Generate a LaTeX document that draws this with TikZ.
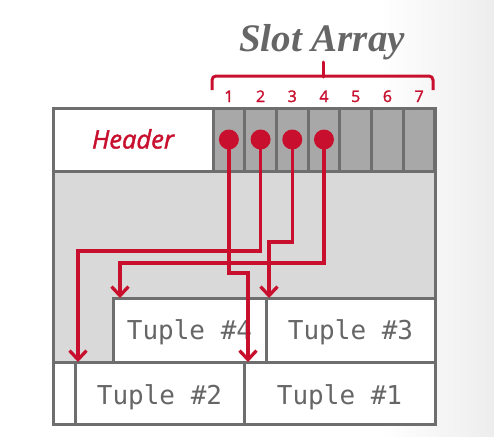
\documentclass[tikz,border=0pt]{standalone}
\usepackage{fontspec}
\setmainfont{Liberation Serif}
\newfontfamily\numfont[FakeBold=1.6]{Open Sans}
\newfontfamily\headfont[FakeBold=1.6]{Open Sans}
\newfontfamily\monofont{DejaVu Sans Mono}
\usetikzlibrary{arrows.meta,calc}
\definecolor{cmured}{RGB}{200,16,46}
\definecolor{bordergray}{RGB}{110,110,110}
\definecolor{pagegray}{RGB}{217,217,217}
\definecolor{slotgray}{RGB}{168,168,168}
\definecolor{textgray}{RGB}{102,102,102}
\tikzset{
  box/.style={draw=bordergray, line width=3pt, inner sep=0pt, outer sep=0pt},
  slotcell/.style={box, fill=slotgray, minimum width=31.71pt, minimum height=63pt},
  tuplebox/.style={box, fill=white, minimum height=63pt, text height=19pt, text depth=0pt,
                   font=\monofont\fontsize{26}{26}\selectfont, text=textgray},
  dot/.style={circle, fill=cmured, minimum size=20pt, inner sep=0pt},
  arr/.style={draw=cmured, line width=3.3pt, -{Straight Barb[length=9pt,width=17pt,line width=3.3pt]}},
  slotnum/.style={text=cmured, font=\numfont\fontsize{16}{16}\selectfont, anchor=base},
}
\begin{document}
\begin{tikzpicture}[x=1pt,y=-1pt]
\useasboundingbox (0,0) rectangle (494,436);
\shade[left color=white, right color=black!7] (380,0) rectangle (494,436);
% page
\node[box, fill=pagegray, minimum width=382pt, minimum height=316pt] (page) at (244,266) {};
% header
\node[box, fill=white, minimum width=160pt, minimum height=63pt, text height=18pt, text depth=0pt,
      text=cmured, font=\headfont\itshape\fontsize{25.5}{25.5}\selectfont] (header) at (133,139.5) {Header};
% slot cells
\foreach \i in {1,...,7}{
  \node[slotcell] (s\i) at ({213+(\i-0.5)*31.71},139.5) {};
  \node[slotnum] (n\i) at ({213+(\i-0.5)*31.71},102) {\i};
}
% tuples
\node[box, fill=white, minimum width=22pt, minimum height=62pt] (gap) at (64,393) {};
\node[tuplebox, minimum width=169pt, minimum height=62pt, text height=23pt] (t2) at (159.5,393) {Tuple \#2};
\node[tuplebox, minimum width=191pt, minimum height=62pt, text height=23pt] (t1) at (339.5,393) {Tuple \#1};
\node[tuplebox, minimum width=153pt, minimum height=64pt] (t4) at (189.5,330) {Tuple \#4};
\node[tuplebox, minimum width=169pt, minimum height=64pt] (t3) at (350.5,330) {Tuple \#3};
% redraw outer border on top
\draw[draw=bordergray, line width=3pt] (page.north west) rectangle (page.south east);
% brace
\draw[draw=cmured, line width=3pt, rounded corners=4pt] (212,90) -- (212,76) -- (433,76) -- (433,90);
\draw[draw=cmured, line width=3pt, line cap=round] (323,77) -- (323,62);
\node[anchor=base, text=textgray, font=\fontsize{39}{39}\selectfont\bfseries\itshape] (title) at (322,52) {Slot Array};
% dots
\foreach \i in {1,...,4}{
  \node[dot] (d\i) at (s\i.center) {};
}
% bend coordinates
\coordinate (b1) at (248,273);
\coordinate (b2) at (78,251);
\coordinate (b3) at (269,242);
\coordinate (b4) at (120,263);
% arrows
\draw[arr] (d1.center) |- (b1) -- (b1 |- t1.north);
\draw[arr] (d2.center) |- (b2) -- (b2 |- t2.north);
\draw[arr] (d3.center) |- (b3) -- (b3 |- t3.north);
\draw[arr] (d4.center) |- (b4) -- (b4 |- t4.north);
\end{tikzpicture}
\end{document}
